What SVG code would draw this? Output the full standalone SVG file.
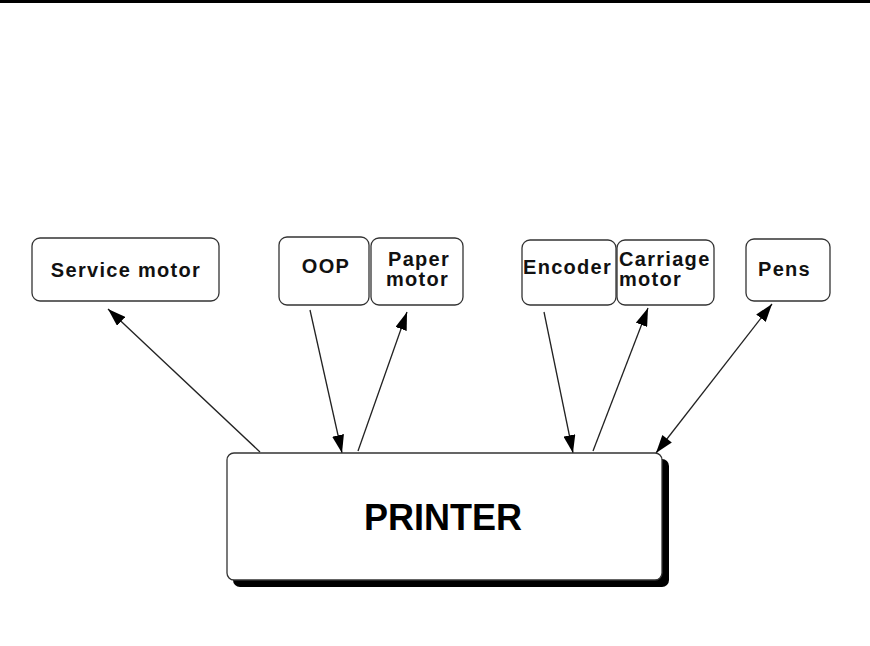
<svg xmlns="http://www.w3.org/2000/svg" width="870" height="646" viewBox="0 0 870 646">
  <style>
    .box { fill: #ffffff; stroke: #333333; stroke-width: 1.3; }
    .lbl { font-family: "Liberation Sans", Arial, sans-serif; font-weight: bold; font-size: 20px; letter-spacing: 1.3px; fill: #111111; }
    .conn { stroke: #222222; stroke-width: 1.3; fill: none; }
    .big { font-family: "Liberation Sans", Arial, sans-serif; font-weight: bold; font-size: 36px; fill: #000000; }
  </style>
  <defs>
    <marker id="ah" markerUnits="userSpaceOnUse" markerWidth="20" markerHeight="12" refX="18" refY="6" orient="auto">
      <path d="M0,0 L18,6 L0,12 Z" fill="#000000"/>
    </marker>
    <marker id="ahs" markerUnits="userSpaceOnUse" markerWidth="20" markerHeight="12" refX="0" refY="6" orient="auto">
      <path d="M18,0 L0,6 L18,12 Z" fill="#000000"/>
    </marker>
  </defs>
  <rect width="870" height="646" fill="#ffffff"/>
  <rect x="0" y="0" width="870" height="3" fill="#000000"/>

  <g id="connectors">
    <line class="conn" x1="260" y1="452" x2="108" y2="309" marker-end="url(#ah)"/>
    <line class="conn" x1="310" y1="310" x2="342" y2="453" marker-end="url(#ah)"/>
    <line class="conn" x1="358" y1="451" x2="407" y2="312" marker-end="url(#ah)"/>
    <line class="conn" x1="544" y1="312" x2="573" y2="453" marker-end="url(#ah)"/>
    <line class="conn" x1="593" y1="451" x2="648" y2="308" marker-end="url(#ah)"/>
    <line class="conn" x1="656" y1="453" x2="772" y2="304" marker-start="url(#ahs)" marker-end="url(#ah)"/>
  </g>

  <g id="service-motor">
    <rect class="box" x="32" y="238" width="187" height="63" rx="8"/>
    <text class="lbl" x="126" y="277" text-anchor="middle">Service motor</text>
  </g>
  <g id="oop">
    <rect class="box" x="279" y="237" width="90" height="68" rx="8"/>
    <text class="lbl" x="326" y="273" text-anchor="middle">OOP</text>
  </g>
  <g id="paper-motor">
    <rect class="box" x="371" y="238" width="92" height="67" rx="8"/>
    <text class="lbl" x="388" y="266">Paper</text>
    <text class="lbl" x="386" y="286">motor</text>
  </g>
  <g id="encoder">
    <rect class="box" x="522" y="240" width="94" height="65" rx="8"/>
    <text class="lbl" x="523" y="274">Encoder</text>
  </g>
  <g id="carriage-motor">
    <rect class="box" x="617" y="240" width="97" height="65" rx="8"/>
    <text class="lbl" x="619" y="266">Carriage</text>
    <text class="lbl" x="619" y="286">motor</text>
  </g>
  <g id="pens">
    <rect class="box" x="746" y="239" width="84" height="62" rx="8"/>
    <text class="lbl" x="758" y="276">Pens</text>
  </g>
  <g id="printer">
    <rect x="233" y="459" width="436" height="128" rx="7" fill="#000000"/>
    <rect class="box" x="227" y="453" width="435" height="127" rx="7"/>
    <text class="big" x="443" y="530" text-anchor="middle">PRINTER</text>
  </g>
</svg>
